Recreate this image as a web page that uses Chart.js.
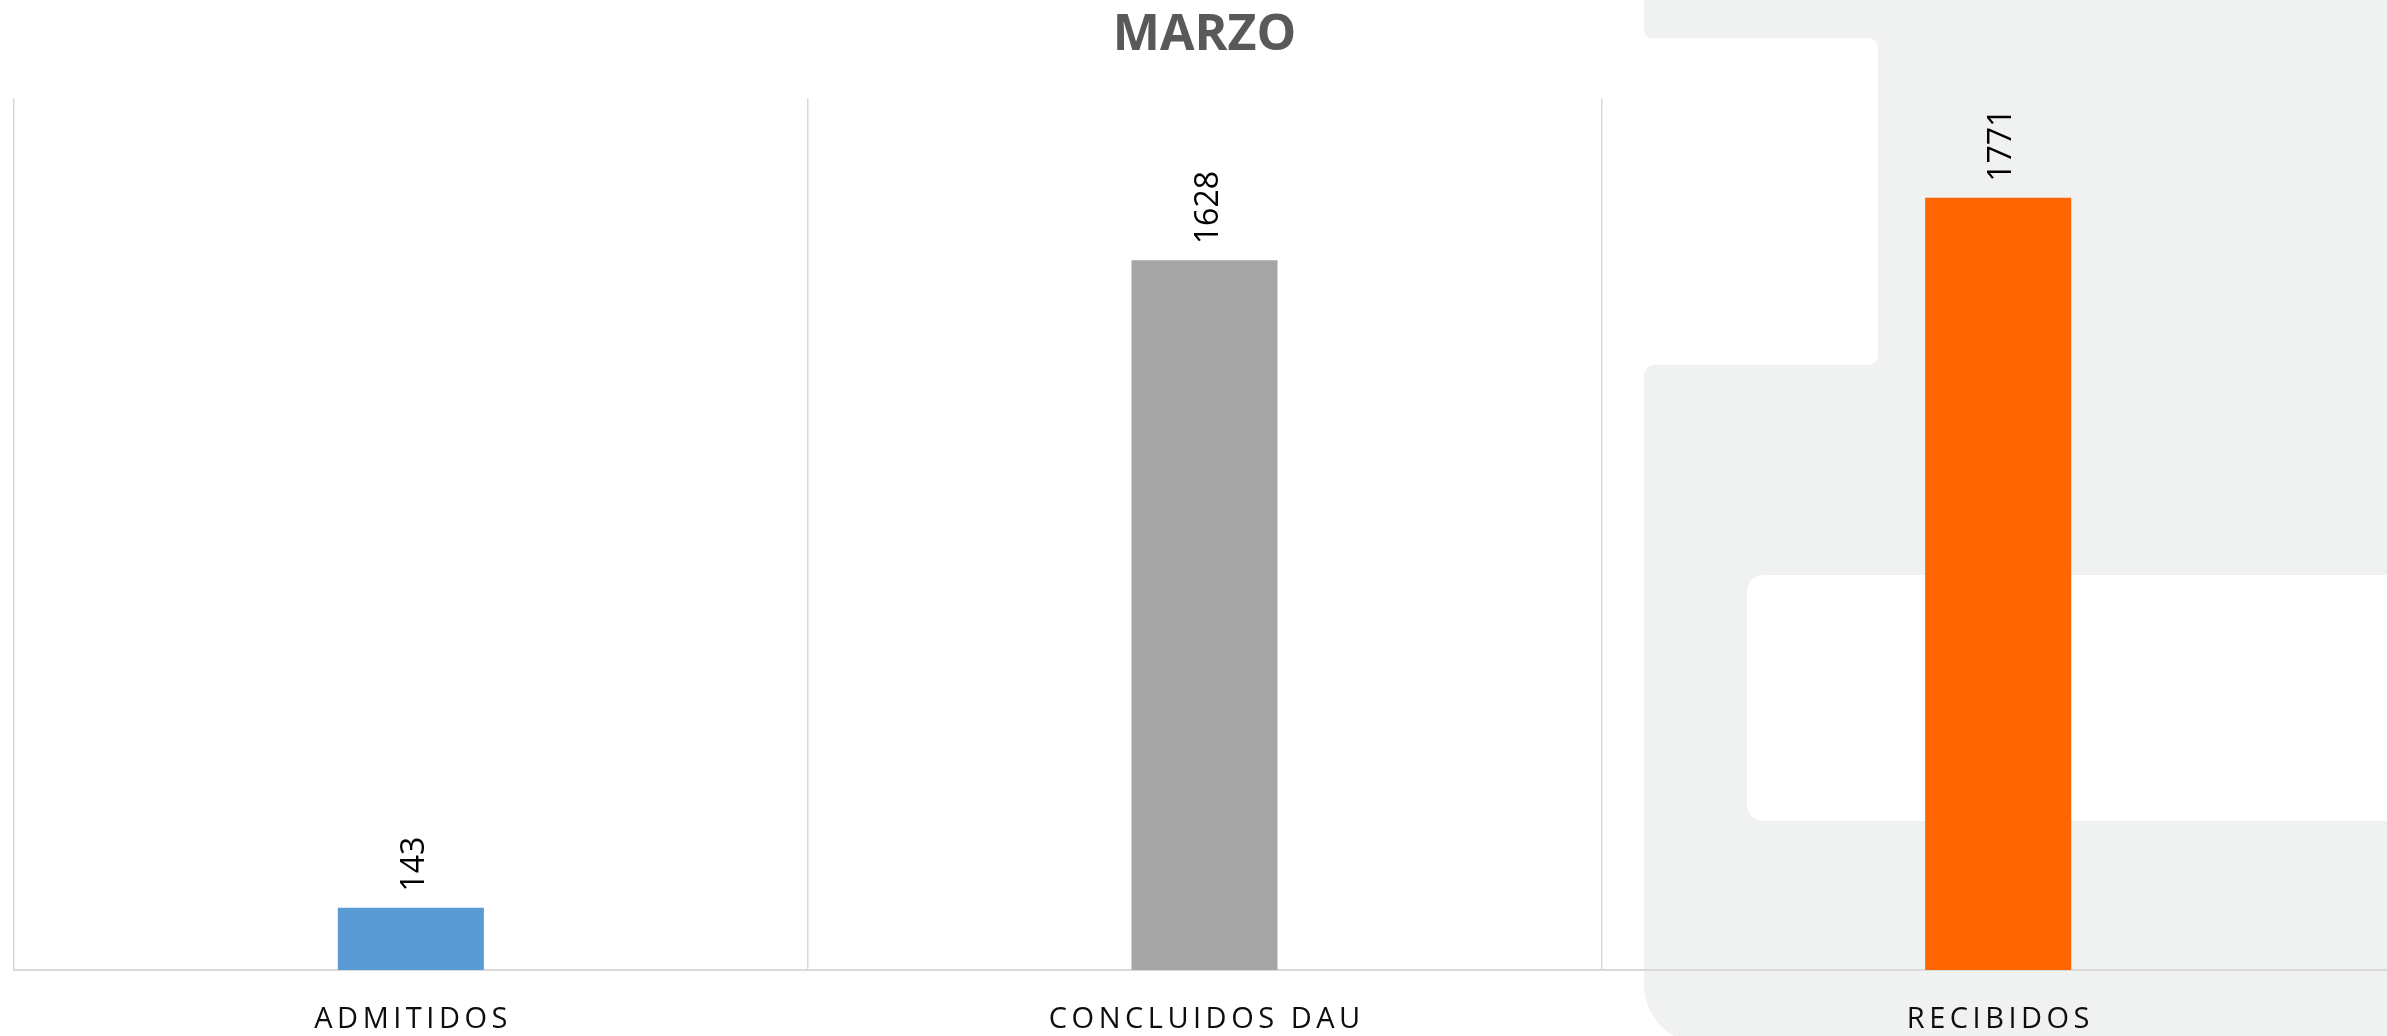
<!DOCTYPE html>
<html>
<head>
<meta charset="utf-8">
<script src="https://cdn.jsdelivr.net/npm/chart.js@4.4.1/dist/chart.umd.min.js"></script>
<style>
    html, body { margin: 0; padding: 0; background: #ffffff; overflow: hidden; }
    #wrap { width: 2400px; height: 1036px; }
</style>
</head>
<body>
<div id="wrap"><canvas id="marzoChart" width="2400" height="1036"></canvas></div>
<script>
// ===============================
// 1. DADOS
// ===============================

const titulo = 'MARZO';
const categorias = ['ADMITIDOS', 'CONCLUIDOS DAU', 'RECIBIDOS'];
const valores = [143, 1628, 1771];
const coresBarras = ['#5b9bd5', '#a5a5a5', '#ff6600'];
const escalaMin = 0;
const escalaMax = 2000;


// ===============================
// 2. FUNDO (marca d'agua cinza)
// ===============================

const fundoPlugin = {
    id: 'fundo',
    beforeDraw(chart) {
        const ctx = chart.ctx;
        ctx.save();
        ctx.fillStyle = '#ffffff';
        ctx.fillRect(0, 0, chart.width, chart.height);

        // contorno com cantos arredondados
        const pts = [
            [2420, -10, 0], [1644, -10, 0], [1644, 38, 8], [1878, 38, 10],
            [1878, 365, 10], [1644, 365, 10], [1644, 1044, 60], [2420, 1044, 0]
        ];
        ctx.fillStyle = '#f0f1f1';
        ctx.beginPath();
        ctx.moveTo(pts[0][0], pts[0][1]);
        for (let i = 1; i < pts.length; i++) {
            const p = pts[i];
            const n = pts[(i + 1) % pts.length];
            ctx.arcTo(p[0], p[1], n[0], n[1], p[2]);
        }
        ctx.closePath();
        ctx.fill();

        ctx.fillStyle = '#ffffff';
        ctx.beginPath();
        ctx.roundRect(1747, 575, 700, 246, [16, 0, 0, 16]);
        ctx.fill();
        ctx.restore();
    }
};


// ===============================
// 3. ROTULOS (valores e categorias)
// ===============================

const rotulosPlugin = {
    id: 'rotulos',
    afterDatasetsDraw(chart) {
        const ctx = chart.ctx;
        const meta = chart.getDatasetMeta(0);

        // valores na vertical acima das barras
        ctx.save();
        ctx.fillStyle = '#000000';
        ctx.font = '32px "Open Sans"';
        ctx.textAlign = 'left';
        ctx.textBaseline = 'alphabetic';
        meta.data.forEach((bar, i) => {
            ctx.save();
            ctx.translate(bar.x, bar.y - 16);
            ctx.rotate(-Math.PI / 2);
            ctx.fillText(String(valores[i]), 0, 13);
            ctx.restore();
        });
        ctx.restore();

        // categorias com espacamento entre letras
        const xScale = chart.scales.x;
        const espaco = 4.5;
        ctx.save();
        ctx.fillStyle = '#0d0d0d';
        ctx.font = '29px "Open Sans"';
        ctx.letterSpacing = espaco + 'px';
        ctx.textAlign = 'center';
        ctx.textBaseline = 'alphabetic';
        categorias.forEach((cat, i) => {
            const x = xScale.getPixelForTick(i) + espaco / 2;
            ctx.fillText(cat, x, chart.chartArea.bottom + 58);
        });
        ctx.restore();
    }
};


// ===============================
// 4. GRAFICO
// ===============================

const ctx = document.getElementById('marzoChart').getContext('2d');

new Chart(ctx, {
    type: 'bar',
    data: {
        labels: categorias,
        datasets: [{
            data: valores,
            backgroundColor: coresBarras,
            borderWidth: 0,
            categoryPercentage: 1,
            barPercentage: 0.184
        }]
    },
    options: {
        responsive: false,
        animation: false,
        layout: {
            padding: { left: 14, right: 5, top: 0, bottom: 66 }
        },
        plugins: {
            legend: { display: false },
            tooltip: { enabled: false },
            title: {
                display: true,
                text: titulo,
                color: '#595959',
                font: { family: 'Open Sans', size: 50, weight: 'bold' },
                padding: { top: 6, bottom: 32 }
            }
        },
        scales: {
            x: {
                grid: {
                    display: true,
                    offset: true,
                    drawTicks: false,
                    color: '#d9d9d9',
                    lineWidth: 1.5
                },
                border: { display: true, color: '#d9d9d9', width: 2 },
                ticks: { display: false }
            },
            y: {
                display: false,
                min: escalaMin,
                max: escalaMax
            }
        }
    },
    plugins: [fundoPlugin, rotulosPlugin]
});
</script>
</body>
</html>
